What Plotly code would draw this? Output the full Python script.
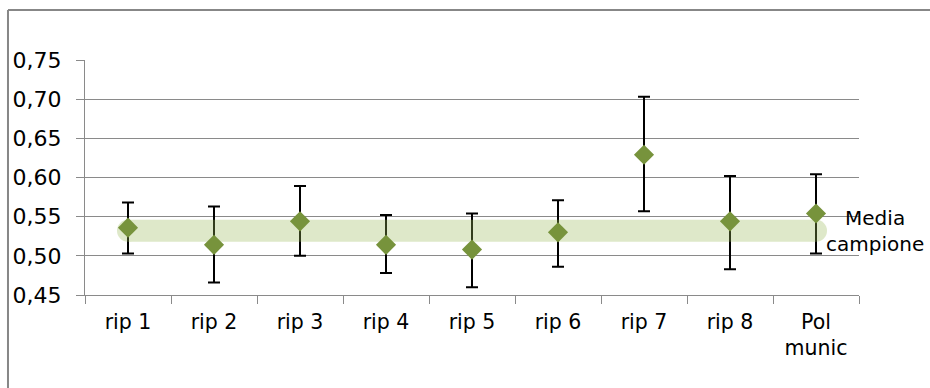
import plotly.graph_objects as go

categories = ["rip 1", "rip 2", "rip 3", "rip 4", "rip 5", "rip 6", "rip 7", "rip 8", "Pol<br>munic"]
means = [0.536, 0.514, 0.544, 0.514, 0.508, 0.530, 0.629, 0.544, 0.554]
upper = [0.568, 0.563, 0.589, 0.552, 0.554, 0.571, 0.703, 0.602, 0.604]
lower = [0.503, 0.466, 0.500, 0.478, 0.460, 0.486, 0.557, 0.483, 0.503]
sample_mean = 0.532
sample_label = "Media<br>campione"

err_plus = [u - m for u, m in zip(upper, means)]
err_minus = [m - l for m, l in zip(means, lower)]

FONT = "DejaVu Sans"
GRID = "#8a8a8a"

fig = go.Figure()

# error bars (drawn first, under the band)
fig.add_trace(go.Scatter(
    x=categories, y=means, mode="markers",
    marker=dict(size=1, color="rgba(0,0,0,0)"),
    error_y=dict(type="data", symmetric=False, array=err_plus, arrayminus=err_minus,
                 color="black", thickness=2, width=6),
    showlegend=False, hoverinfo="skip",
))

# sample mean band
band_x = [categories[0], categories[-1]]
fig.add_trace(go.Scatter(
    x=band_x, y=[sample_mean, sample_mean], mode="lines+markers",
    line=dict(color="#9bbb59", width=22),
    marker=dict(symbol="circle", size=22, color="#9bbb59", line=dict(width=0)),
    opacity=0.32, showlegend=False, hoverinfo="skip",
))

# diamond markers
fig.add_trace(go.Scatter(
    x=categories, y=means, mode="markers",
    marker=dict(symbol="diamond", size=15.5, color="#77933c", line=dict(width=0)),
    showlegend=False,
))

fig.add_annotation(
    x=categories[-1], y=sample_mean, xref="x", yref="y",
    text=sample_label, showarrow=False, xanchor="center", yanchor="middle",
    xshift=59, align="center", font=dict(family=FONT, size=20, color="black"),
)

# outer frame (top and left edges visible)
fig.add_shape(type="line", xref="paper", yref="paper",
              x0=-0.0995, x1=1.2, y0=1.2128, y1=1.2128,
              line=dict(color="#878787", width=2), layer="below")
fig.add_shape(type="line", xref="paper", yref="paper",
              x0=-0.0995, x1=-0.0995, y0=-0.5, y1=1.2128,
              line=dict(color="#878787", width=2), layer="below")

fig.update_layout(
    width=930, height=388,
    margin=dict(l=85, r=71, t=60, b=93, autoexpand=False),
    paper_bgcolor="white", plot_bgcolor="white",
    separators=",.",
    font=dict(family=FONT, size=20, color="black"),
    showlegend=False,
)
fig.update_xaxes(
    type="category", categoryorder="array", categoryarray=categories,
    showline=True, linecolor=GRID, linewidth=1,
    ticks="outside", tickson="boundaries", ticklen=8, tickcolor=GRID,
    showgrid=False, tickfont=dict(family=FONT, size=20.5, color="black"),
    range=[-0.5, len(categories) - 0.5], automargin=False,
    ticklabelstandoff=8,
)
fig.update_yaxes(
    range=[0.45, 0.75], dtick=0.05, tick0=0.45, tickformat=".2f",
    showline=True, linecolor=GRID, linewidth=1,
    ticks="outside", ticklen=8, tickcolor=GRID,
    showgrid=True, gridcolor=GRID, gridwidth=1, zeroline=False,
    tickfont=dict(family=FONT, size=22, color="black"),
    ticklabelstandoff=10, automargin=False,
)

fig.write_html("out.html", config={"displayModeBar": False},
               post_script="document.body.style.margin='0';document.body.style.overflow='hidden';document.documentElement.style.overflow='hidden';")
